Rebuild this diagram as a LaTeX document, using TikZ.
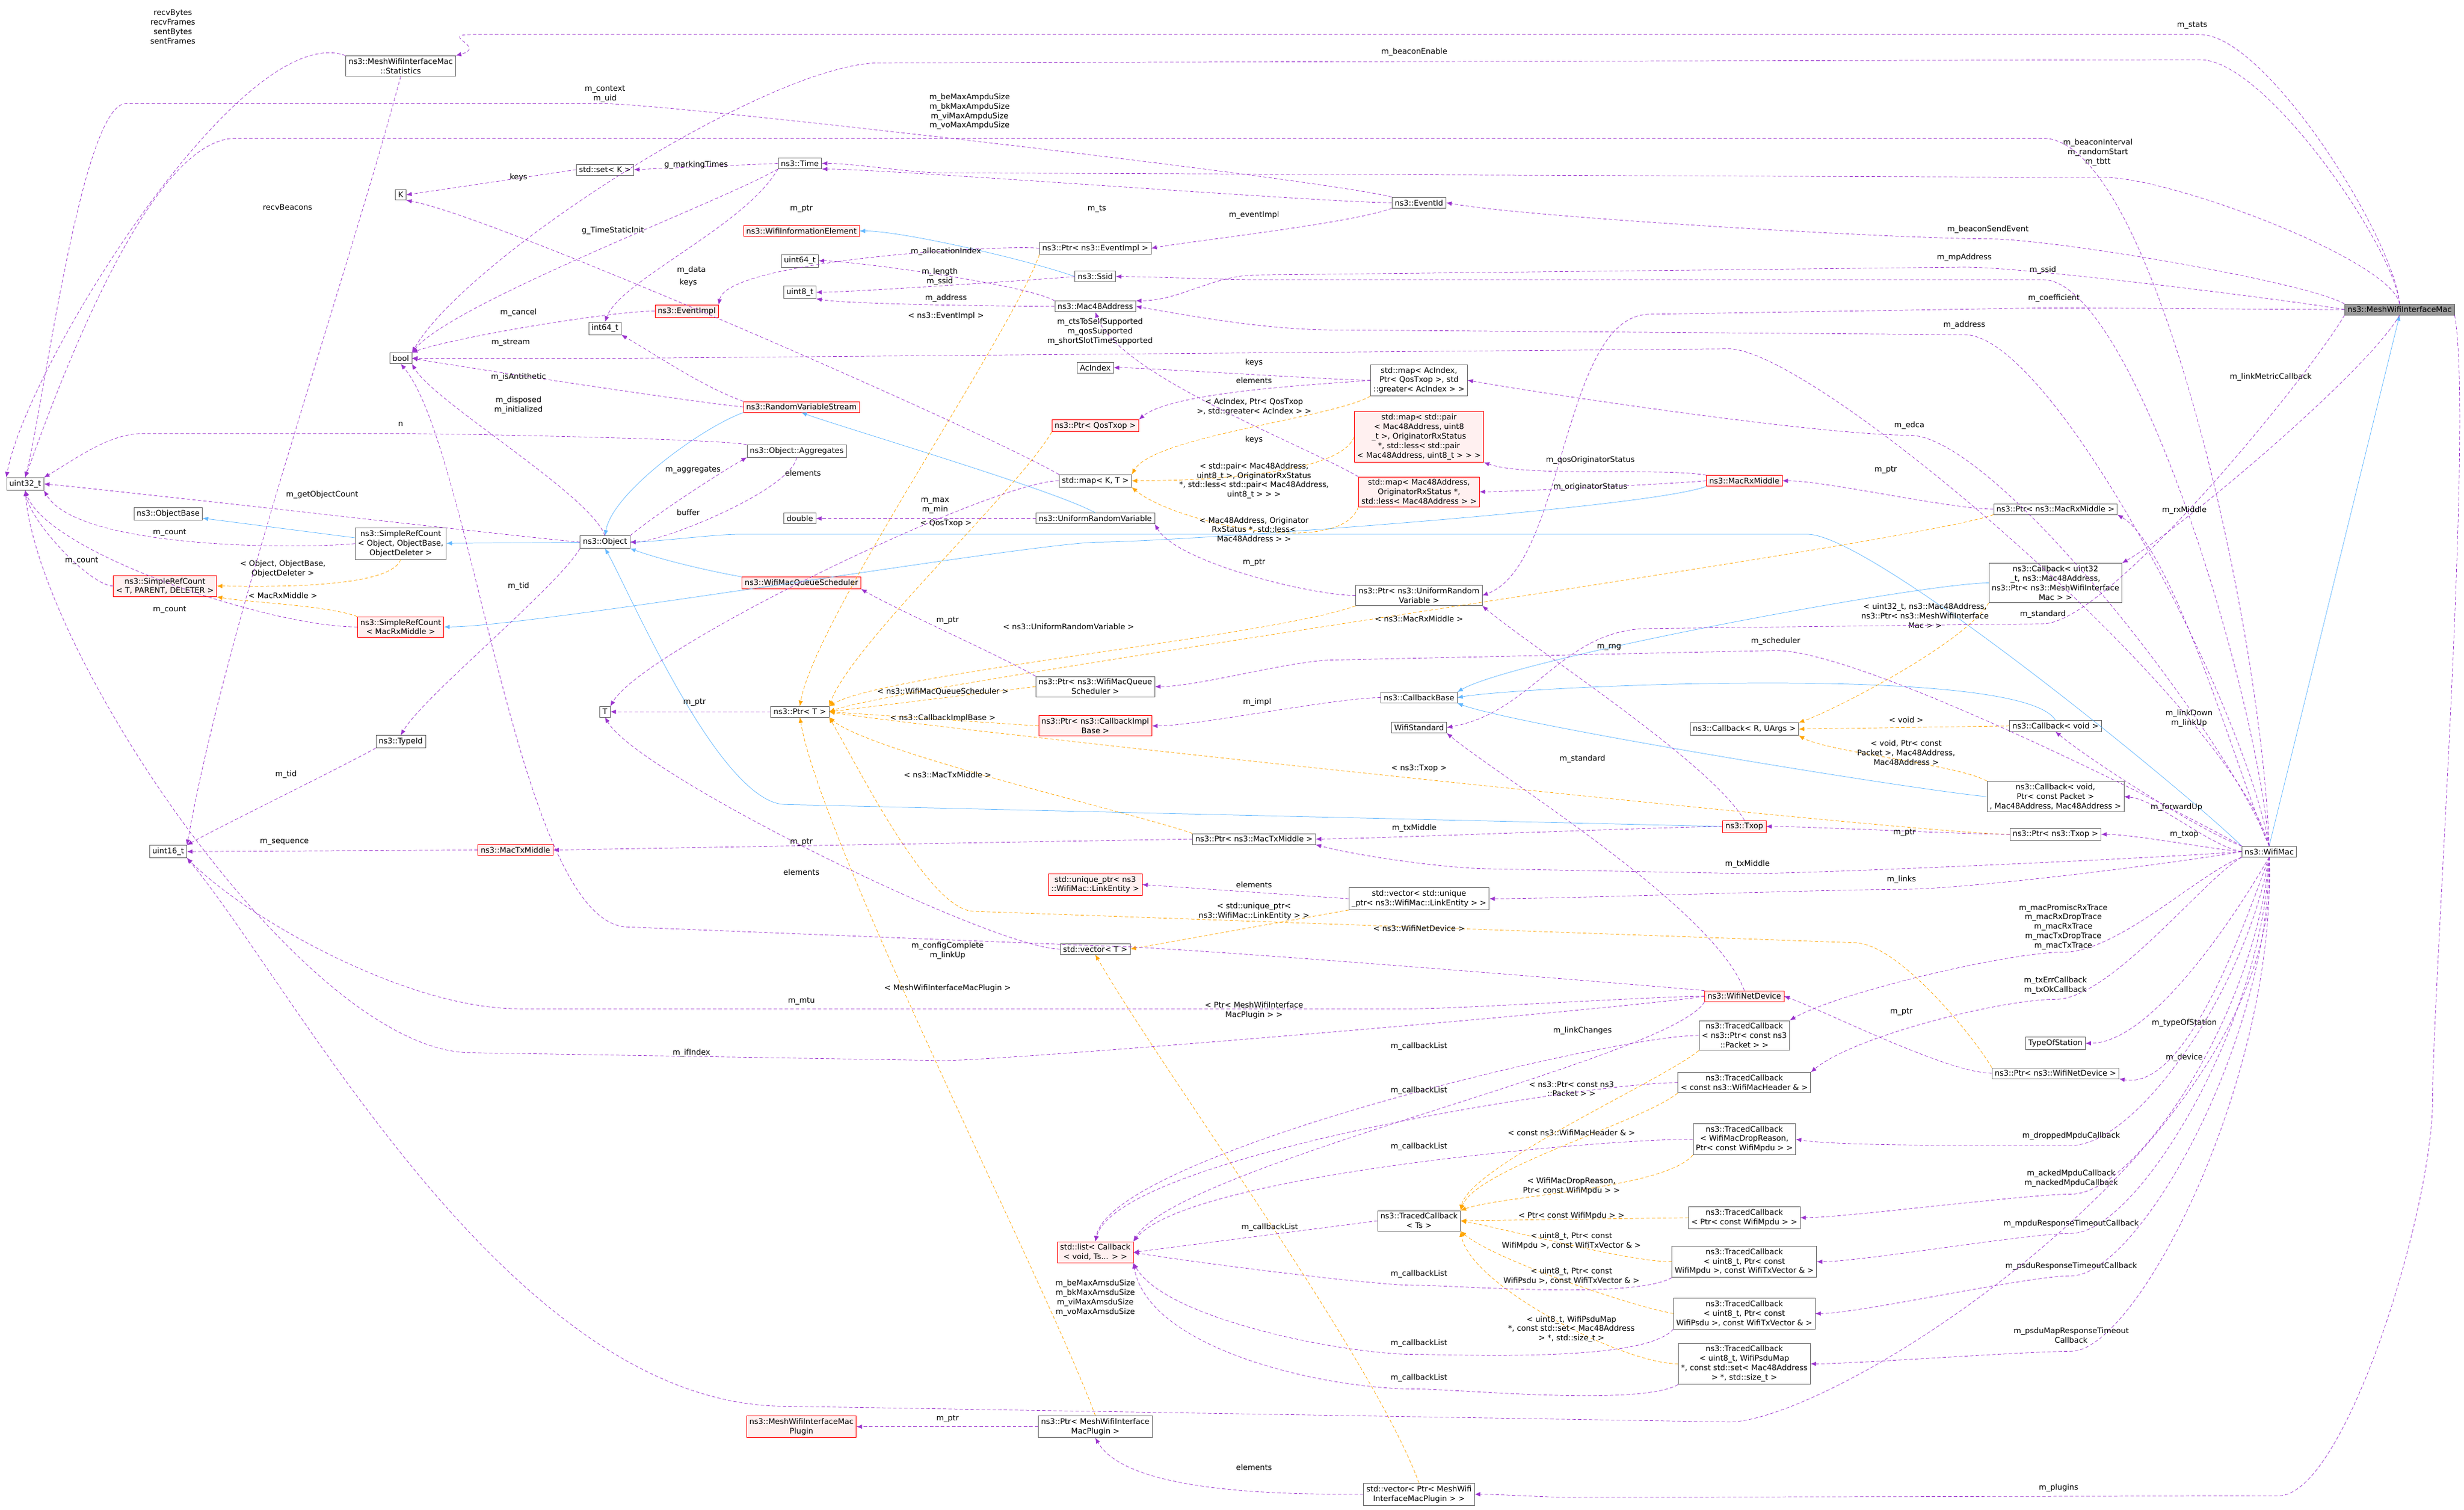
\documentclass[tikz,border=0pt]{standalone}
\usepackage{fontspec}
\setmainfont{DejaVu Sans}
\usetikzlibrary{arrows.meta}
\definecolor{pur}{HTML}{9A32CD}
\definecolor{blu}{HTML}{63B8FF}
\definecolor{ora}{HTML}{FFA500}
\definecolor{pink}{HTML}{FFF0F0}
\tikzset{
 box/.style={draw=black!60, fill=white, font=\fontsize{7}{8.6}\selectfont, align=center, inner xsep=2.5pt, inner ysep=2.2pt},
 rbox/.style={box, draw=red, fill=pink},
 gbox/.style={box, fill=black!40},
 lbl/.style={font=\fontsize{7}{8.6}\selectfont, align=center, inner sep=0.5pt},
 mem/.style={draw=pur, dash pattern=on 3pt off 2pt, -{Latex[length=5pt,width=4pt]}},
 inh/.style={draw=blu, -{Latex[length=5pt,width=4pt]}},
 tpl/.style={draw=ora, dash pattern=on 3pt off 2pt, -{Latex[length=5pt,width=4pt]}},
}
\begin{document}
\begin{tikzpicture}[x=0.05cm,y=-0.05cm]
\useasboundingbox[fill=white] (0,0) rectangle (1568,961);
% ---------------- nodes
\node[gbox] (mwim) at (1527,197) {ns3::MeshWifiInterfaceMac};
\node[box] (stats) at (255,42) {ns3::MeshWifiInterfaceMac\\::Statistics};
\node[box] (u32) at (16,308) {uint32\_t};
\node[box] (K) at (255,124) {K};
\node[box] (setK) at (385,108) {std::set< K >};
\node[box] (time) at (509,104) {ns3::Time};
\node[rbox] (wie) at (510,147) {ns3::WifiInformationElement};
\node[box] (u64) at (509,166) {uint64\_t};
\node[box] (u8) at (509,186) {uint8\_t};
\node[rbox] (eimpl) at (437,198) {ns3::EventImpl};
\node[box] (i64) at (385,209) {int64\_t};
\node[box] (bool) at (255,228) {bool};
\node[rbox] (rvs) at (510,259) {ns3::RandomVariableStream};
\node[box] (aggr) at (507,287) {ns3::Object::Aggregates};
\node[box] (obase) at (107,327) {ns3::ObjectBase};
\node[box] (srcobj) at (255,346) {ns3::SimpleRefCount\\< Object, ObjectBase,\\ObjectDeleter >};
\node[box] (obj) at (385,345) {ns3::Object};
\node[rbox] (srcT) at (105,373) {ns3::SimpleRefCount\\< T, PARENT, DELETER >};
\node[rbox] (srcRx) at (255,399) {ns3::SimpleRefCount\\< MacRxMiddle >};
\node[rbox] (wmqs) at (510,371) {ns3::WifiMacQueueScheduler};
\node[box] (dbl) at (509,330) {double};
\node[box] (typeid) at (255,472) {ns3::TypeId};
\node[box] (T) at (385,453) {T};
\node[box] (u16) at (107,542) {uint16\_t};
\node[rbox] (mtx) at (328,541) {ns3::MacTxMiddle};
\node[box] (eid) at (903,129) {ns3::EventId};
\node[box] (peimpl) at (697,158) {ns3::Ptr< ns3::EventImpl >};
\node[box] (ssid) at (697,176) {ns3::Ssid};
\node[box] (mac48) at (697,195) {ns3::Mac48Address};
\node[box] (acidx) at (697,234) {AcIndex};
\node[box] (mapac) at (903,242) {std::map< AcIndex,\\Ptr< QosTxop >, std\\::greater< AcIndex > >};
\node[rbox] (pqos) at (697,271) {ns3::Ptr< QosTxop >};
\node[rbox] (mappair) at (903,278) {std::map< std::pair\\< Mac48Address, uint8\\\_t >, OriginatorRxStatus\\*, std::less< std::pair\\< Mac48Address, uint8\_t > > >};
\node[box] (mapKT) at (697,306) {std::map< K, T >};
\node[rbox] (mapmac) at (903,313) {std::map< Mac48Address,\\OriginatorRxStatus *,\\std::less< Mac48Address > >};
\node[rbox] (mrx) at (1110,306) {ns3::MacRxMiddle};
\node[box] (urv) at (697,330) {ns3::UniformRandomVariable};
\node[box] (purv) at (903,379) {ns3::Ptr< ns3::UniformRandom\\Variable >};
\node[box] (pmrx) at (1308,324) {ns3::Ptr< ns3::MacRxMiddle >};
\node[box] (cbu32) at (1308,371) {ns3::Callback< uint32\\\_t, ns3::Mac48Address,\\ns3::Ptr< ns3::MeshWifiInterface\\Mac > >};
\node[box] (cbbase) at (903,444) {ns3::CallbackBase};
\node[box] (wstd) at (903,463) {WifiStandard};
\node[box] (pwmqs) at (697,437) {ns3::Ptr< ns3::WifiMacQueue\\Scheduler >};
\node[rbox] (pcib) at (697,462) {ns3::Ptr< ns3::CallbackImpl\\Base >};
\node[box] (pT) at (509,453) {ns3::Ptr< T >};
\node[box] (cbR) at (1110,464) {ns3::Callback< R, UArgs >};
\node[box] (cbvoid) at (1308,462) {ns3::Callback< void >};
\node[box] (cbpkt) at (1308,507) {ns3::Callback< void,\\Ptr< const Packet >\\, Mac48Address, Mac48Address >};
\node[rbox] (txop) at (1110,526) {ns3::Txop};
\node[box] (ptxop) at (1308,531) {ns3::Ptr< ns3::Txop >};
\node[box] (wmac) at (1444,542) {ns3::WifiMac};
\node[box] (pmtx) at (798,534) {ns3::Ptr< ns3::MacTxMiddle >};
\node[rbox] (uptr) at (697,563) {std::unique\_ptr< ns3\\::WifiMac::LinkEntity >};
\node[box] (vecu) at (903,572) {std::vector< std::unique\\\_ptr< ns3::WifiMac::LinkEntity > >};
\node[box] (vecT) at (697,604) {std::vector< T >};
\node[rbox] (wnd) at (1110,634) {ns3::WifiNetDevice};
\node[box] (tcpkt) at (1110,659) {ns3::TracedCallback\\< ns3::Ptr< const ns3\\::Packet > >};
\node[box] (tchdr) at (1110,689) {ns3::TracedCallback\\< const ns3::WifiMacHeader \& >};
\node[box] (tsta) at (1308,664) {TypeOfStation};
\node[box] (pwnd) at (1308,683) {ns3::Ptr< ns3::WifiNetDevice >};
\node[box] (tcdrop) at (1110,725) {ns3::TracedCallback\\< WifiMacDropReason,\\Ptr< const WifiMpdu > >};
\node[box] (tcTs) at (903,777) {ns3::TracedCallback\\< Ts >};
\node[rbox] (list) at (697,797) {std::list< Callback\\< void, Ts... > >};
\node[box] (tcmpdu) at (1110,775) {ns3::TracedCallback\\< Ptr< const WifiMpdu > >};
\node[box] (tcu8mpdu) at (1110,803) {ns3::TracedCallback\\< uint8\_t, Ptr< const\\WifiMpdu >, const WifiTxVector \& >};
\node[box] (tcu8psdu) at (1110,836) {ns3::TracedCallback\\< uint8\_t, Ptr< const\\WifiPsdu >, const WifiTxVector \& >};
\node[box] (tcmap) at (1110,868) {ns3::TracedCallback\\< uint8\_t, WifiPsduMap\\*, const std::set< Mac48Address\\> *, std::size\_t >};
\node[rbox] (mplug) at (510,908) {ns3::MeshWifiInterfaceMac\\Plugin};
\node[box] (pmplug) at (697,908) {ns3::Ptr< MeshWifiInterface\\MacPlugin >};
\node[box] (vecplug) at (903,951) {std::vector< Ptr< MeshWifi\\InterfaceMacPlugin > >};
% ---------------- inheritance
\draw[inh] (srcobj) -- (obase);
\draw[inh] (obj) -- (srcobj);
\draw[inh] (rvs.south west) .. controls +(200:40pt) and +(80:40pt) .. (obj.north);
\draw[inh] (urv.north) .. controls +(150:40pt) and +(-20:40pt) .. (rvs.south);
\draw[inh] (wmqs.north west) .. controls +(170:30pt) and +(-20:30pt) .. (obj.south east);
\draw[inh] (ssid.west) .. controls +(160:40pt) and +(0:40pt) .. (wie.east);
\draw[inh] (mrx.south west) .. controls +(200:60pt) and +(0:60pt) .. (700,345) .. controls +(180:60pt) and +(0:80pt) .. (srcRx.east);
\draw[inh] (txop.west) -- (500,512) .. controls +(180:60pt) and +(-60:40pt) .. (obj.south);
\draw[inh] (wmac.north west) .. controls +(135:60pt) and +(0:60pt) .. (1150,340) -- (470,340) .. controls +(180:20pt) and +(0:20pt) .. (obj.east);
\draw[inh] (wmac.north) -- (mwim.south);
\draw[inh] (cbu32.west) .. controls +(180:60pt) and +(30:60pt) .. (cbbase.north east);
\draw[inh] (cbvoid.north) .. controls +(120:60pt) and +(10:60pt) .. (cbbase.east);
\draw[inh] (cbpkt.west) .. controls +(175:60pt) and +(-20:60pt) .. (cbbase.south east);
% ---------------- templates
\draw[tpl] (srcobj.south) .. controls +(-110:30pt) and +(0:30pt) .. (srcT.east);
\draw[tpl] (srcRx.north west) .. controls +(160:30pt) and +(-10:30pt) .. (srcT.south east);
\draw[tpl] (peimpl.south west) .. controls +(-110:80pt) and +(80:80pt) .. (pT.north);
\draw[tpl] (pqos.south west) .. controls +(-120:60pt) and +(70:60pt) .. (pT.north east);
\draw[tpl] (purv.south west) .. controls +(-160:80pt) and +(30:60pt) .. (pT.north east);
\draw[tpl] (pmrx.south west) .. controls +(-160:80pt) and +(20:80pt) .. (pT.east);
\draw[tpl] (pwmqs.west) -- (pT.east);
\draw[tpl] (pcib.west) -- (pT.east);
\draw[tpl] (ptxop.west) .. controls +(180:80pt) and +(-10:80pt) .. (pT.east);
\draw[tpl] (pmtx.north west) .. controls +(160:50pt) and +(-40:50pt) .. (pT.south east);
\draw[tpl] (pwnd.north west) .. controls +(120:30pt) and +(0:40pt) .. (1180,600) -- (620,580) .. controls +(180:40pt) and +(-60:60pt) .. (pT.south east);
\draw[tpl] (pmplug.north) .. controls +(110:120pt) and +(-80:120pt) .. (pT.south);
\draw[tpl] (mapac.south west) .. controls +(-150:40pt) and +(60:40pt) .. (mapKT.north east);
\draw[tpl] (mappair.west) .. controls +(-110:40pt) and +(0:40pt) .. (mapKT.east);
\draw[tpl] (mapmac.south west) .. controls +(-110:50pt) and +(-40:50pt) .. (mapKT.south east);
\draw[tpl] (cbu32.south west) .. controls +(-120:40pt) and +(20:40pt) .. (cbR.north east);
\draw[tpl] (cbvoid.west) -- (cbR.east);
\draw[tpl] (cbpkt.north west) .. controls +(150:30pt) and +(-30:30pt) .. (cbR.south east);
\draw[tpl] (vecu.south west) .. controls +(-170:40pt) and +(10:40pt) .. (vecT.east);
\draw[tpl] (vecplug.north) .. controls +(110:120pt) and +(-60:120pt) .. (vecT.south);
\draw[tpl] (tcpkt.south west) .. controls +(-140:40pt) and +(80:40pt) .. (tcTs.north east);
\draw[tpl] (tchdr.south west) .. controls +(-140:40pt) and +(70:40pt) .. (tcTs.north east);
\draw[tpl] (tcdrop.south west) .. controls +(-130:40pt) and +(20:40pt) .. (tcTs.north east);
\draw[tpl] (tcmpdu.west) -- (tcTs.east);
\draw[tpl] (tcu8mpdu.west) .. controls +(180:40pt) and +(-10:40pt) .. (tcTs.east);
\draw[tpl] (tcu8psdu.west) .. controls +(170:40pt) and +(-40:40pt) .. (tcTs.south east);
\draw[tpl] (tcmap.west) .. controls +(180:50pt) and +(-80:50pt) .. (tcTs.south east);
% ---------------- template labels
\node[lbl] (t1) at (180,362) {< Object, ObjectBase,\\ObjectDeleter >};
\node[lbl] (t2) at (180,379) {< MacRxMiddle >};
\node[lbl] (t3) at (602,201) {< ns3::EventImpl >};
\node[lbl] (t4) at (602,333) {< QosTxop >};
\node[lbl] (t5) at (798,259) {< AcIndex, Ptr< QosTxop\\>, std::greater< AcIndex > >};
\node[lbl] (t6) at (798,306) {< std::pair< Mac48Address,\\uint8\_t >, OriginatorRxStatus\\*, std::less< std::pair< Mac48Address,\\uint8\_t > > >};
\node[lbl] (t7) at (798,337) {< Mac48Address, Originator\\RxStatus *, std::less<\\Mac48Address > >};
\node[lbl] (t8) at (903,394) {< ns3::MacRxMiddle >};
\node[lbl] (t9) at (680,399) {< ns3::UniformRandomVariable >};
\node[lbl] (t10) at (600,440) {< ns3::WifiMacQueueScheduler >};
\node[lbl] (t11) at (600,457) {< ns3::CallbackImplBase >};
\node[lbl] (t12) at (1225,392) {< uint32\_t, ns3::Mac48Address,\\ns3::Ptr< ns3::MeshWifiInterface\\Mac > >};
\node[lbl] (t13) at (1213,458) {< void >};
\node[lbl] (t14) at (1213,479) {< void, Ptr< const\\Packet >, Mac48Address,\\Mac48Address >};
\node[lbl] (t15) at (903,489) {< ns3::Txop >};
\node[lbl] (t16) at (603,493) {< ns3::MacTxMiddle >};
\node[lbl] (t17) at (798,580) {< std::unique\_ptr<\\ns3::WifiMac::LinkEntity > >};
\node[lbl] (t18) at (903,591) {< ns3::WifiNetDevice >};
\node[lbl] (t19) at (603,629) {< MeshWifiInterfaceMacPlugin >};
\node[lbl] (t20) at (798,643) {< Ptr< MeshWifiInterface\\MacPlugin > >};
\node[lbl] (t21) at (1000,693) {< ns3::Ptr< const ns3\\::Packet > >};
\node[lbl] (t22) at (1000,721) {< const ns3::WifiMacHeader \& >};
\node[lbl] (t23) at (1000,755) {< WifiMacDropReason,\\Ptr< const WifiMpdu > >};
\node[lbl] (t24) at (1000,774) {< Ptr< const WifiMpdu > >};
\node[lbl] (t25) at (1000,790) {< uint8\_t, Ptr< const\\WifiMpdu >, const WifiTxVector \& >};
\node[lbl] (t26) at (1000,812) {< uint8\_t, Ptr< const\\WifiPsdu >, const WifiTxVector \& >};
\node[lbl] (t27) at (1000,846) {< uint8\_t, WifiPsduMap\\*, const std::set< Mac48Address\\> *, std::size\_t >};
% ---------------- members: MeshWifiInterfaceMac
\draw[mem] (mwim.north) .. controls +(95:60pt) and +(0:60pt) .. (1400,22) -- (300,22) .. controls +(180:30pt) and +(15:30pt) .. (stats.north east);
\node[lbl] (l1) at (1395,16) {m\_stats};
\draw[mem] (mwim.north) .. controls +(95:50pt) and +(0:60pt) .. (1400,38) -- (560,40) .. controls +(180:100pt) and +(60:100pt) .. (bool.north east);
\node[lbl] (l2) at (900,33) {m\_beaconEnable};
\draw[mem] (mwim.north) .. controls +(100:40pt) and +(0:60pt) .. (1340,113) -- (600,110) .. controls +(180:30pt) and +(0:30pt) .. (time.east);
\node[lbl] (l3) at (1335,97) {m\_beaconInterval\\m\_randomStart\\m\_tbtt};
\draw[mem] (mwim.north west) .. controls +(150:40pt) and +(0:60pt) .. (1265,152) .. controls +(180:80pt) and +(-10:80pt) .. (eid.east);
\node[lbl] (l4) at (1265,146) {m\_beaconSendEvent};
\draw[mem] (mwim.west) .. controls +(170:40pt) and +(0:60pt) .. (1250,170) -- (800,175) .. controls +(180:40pt) and +(0:40pt) .. (mac48.north east);
\node[lbl] (l5) at (1250,164) {m\_mpAddress};
\draw[mem] (mwim.west) .. controls +(180:40pt) and +(0:60pt) .. (1300,196) -- (1050,200) .. controls +(180:80pt) and +(20:80pt) .. (purv.east);
\node[lbl] (l6) at (1307,190) {m\_coefficient};
\draw[mem] (mwim.south) .. controls +(-120:60pt) and +(30:60pt) .. (cbu32.north east);
\node[lbl] (l7) at (1445,240) {m\_linkMetricCallback};
\draw[mem] (mwim.south west) .. controls +(-120:60pt) and +(0:60pt) .. (1300,397) -- (1050,400) .. controls +(180:80pt) and +(10:80pt) .. (wstd.east);
\node[lbl] (l8) at (1300,391) {m\_standard};
\draw[mem] (mwim.south east) .. controls +(-80:100pt) and +(90:100pt) .. (1548,700) .. controls +(-90:100pt) and +(0:60pt) .. (1450,952) -- (1000,953) .. controls +(180:20pt) and +(0:20pt) .. (vecplug.east);
\node[lbl] (l9) at (1310,947) {m\_plugins};
% ---------------- members: WifiMac
\draw[mem] (wmac.north) .. controls +(92:200pt) and +(0:100pt) .. (1300,88) -- (150,88) .. controls +(180:80pt) and +(70:80pt) .. (u32.north);
\node[lbl] (l10) at (617,71) {m\_beMaxAmpduSize\\m\_bkMaxAmpduSize\\m\_viMaxAmpduSize\\m\_voMaxAmpduSize};
\draw[mem] (wmac.north) .. controls +(95:150pt) and +(0:80pt) .. (1300,178) -- (800,178) .. controls +(180:30pt) and +(0:30pt) .. (ssid.east);
\node[lbl] (l11) at (1300,172) {m\_ssid};
\draw[mem] (wmac.north) .. controls +(100:130pt) and +(0:80pt) .. (1250,213) -- (850,210) .. controls +(180:60pt) and +(-10:60pt) .. (mac48.east);
\node[lbl] (l12) at (1250,207) {m\_address};
\draw[mem] (wmac.north) .. controls +(105:130pt) and +(0:80pt) .. (1100,222) -- (400,228) .. controls +(180:30pt) and +(0:30pt) .. (bool.east);
\node[lbl] (l13) at (700,211) {m\_ctsToSelfSupported\\m\_qosSupported\\m\_shortSlotTimeSupported};
\draw[mem] (wmac.north) .. controls +(110:100pt) and +(0:80pt) .. (1215,277) .. controls +(180:80pt) and +(-10:80pt) .. (mapac.east);
\node[lbl] (l14) at (1215,271) {m\_edca};
\draw[mem] (wmac.north) .. controls +(115:60pt) and +(-30:60pt) .. (pmrx.south east);
\node[lbl] (l15) at (1390,325) {m\_rxMiddle};
\draw[mem] (wmac.north west) .. controls +(150:60pt) and +(0:80pt) .. (1130,414) -- (850,420) .. controls +(180:40pt) and +(0:40pt) .. (pwmqs.east);
\node[lbl] (l16) at (1130,408) {m\_scheduler};
\draw[mem] (wmac.north west) .. controls +(160:40pt) and +(-40:40pt) .. (cbvoid.south);
\node[lbl] (l17) at (1393,457) {m\_linkDown\\m\_linkUp};
\draw[mem] (wmac.west) .. controls +(170:30pt) and +(-5:30pt) .. (cbpkt.east);
\node[lbl] (l18) at (1385,514) {m\_forwardUp};
\draw[mem] (wmac.west) .. controls +(175:30pt) and +(0:30pt) .. (ptxop.east);
\node[lbl] (l19) at (1390,531) {m\_txop};
\draw[mem] (wmac.west) .. controls +(185:60pt) and +(0:60pt) .. (1112,556) -- (950,553) .. controls +(180:40pt) and +(-15:40pt) .. (pmtx.south east);
\node[lbl] (l20) at (1112,550) {m\_txMiddle};
\draw[mem] (wmac.west) .. controls +(190:60pt) and +(0:60pt) .. (1210,566) .. controls +(180:60pt) and +(0:60pt) .. (vecu.east);
\node[lbl] (l21) at (1210,560) {m\_links};
\draw[mem] (wmac.south west) .. controls +(-160:40pt) and +(0:50pt) .. (1313,606) .. controls +(180:50pt) and +(30:50pt) .. (tcpkt.north east);
\node[lbl] (l22) at (1313,590) {m\_macPromiscRxTrace\\m\_macRxDropTrace\\m\_macRxTrace\\m\_macTxDropTrace\\m\_macTxTrace};
\draw[mem] (wmac.south west) .. controls +(-150:40pt) and +(0:50pt) .. (1308,636) .. controls +(180:50pt) and +(40:50pt) .. (tchdr.north east);
\node[lbl] (l23) at (1308,627) {m\_txErrCallback\\m\_txOkCallback};
\draw[mem] (wmac.south) .. controls +(-120:60pt) and +(0:60pt) .. (tsta.east);
\node[lbl] (l24) at (1390,651) {m\_typeOfStation};
\draw[mem] (wmac.south) .. controls +(-110:80pt) and +(-10:60pt) .. (pwnd.south east);
\node[lbl] (l25) at (1390,673) {m\_device};
\draw[mem] (wmac.south) .. controls +(-100:120pt) and +(0:60pt) .. (1318,729) .. controls +(180:40pt) and +(-10:40pt) .. (tcdrop.east);
\node[lbl] (l26) at (1318,723) {m\_droppedMpduCallback};
\draw[mem] (wmac.south) .. controls +(-95:140pt) and +(0:60pt) .. (1318,760) .. controls +(180:40pt) and +(0:40pt) .. (tcmpdu.east);
\node[lbl] (l27) at (1318,750) {m\_ackedMpduCallback\\m\_nackedMpduCallback};
\draw[mem] (wmac.south) .. controls +(-92:150pt) and +(0:60pt) .. (1318,785) .. controls +(180:40pt) and +(0:40pt) .. (tcu8mpdu.east);
\node[lbl] (l28) at (1318,779) {m\_mpduResponseTimeoutCallback};
\draw[mem] (wmac.south) .. controls +(-90:170pt) and +(0:60pt) .. (1318,812) .. controls +(180:40pt) and +(0:40pt) .. (tcu8psdu.east);
\node[lbl] (l29) at (1318,806) {m\_psduResponseTimeoutCallback};
\draw[mem] (wmac.south) .. controls +(-88:200pt) and +(0:60pt) .. (1318,860) .. controls +(180:40pt) and +(0:40pt) .. (tcmap.east);
\node[lbl] (l30) at (1318,850) {m\_psduMapResponseTimeout\\Callback};
\draw[mem] (wmac.south) .. controls +(-86:250pt) and +(0:100pt) .. (1100,905) -- (500,895) .. controls +(180:250pt) and +(-50:150pt) .. (u16.south east);
\node[lbl] (l31) at (697,826) {m\_beMaxAmsduSize\\m\_bkMaxAmsduSize\\m\_viMaxAmsduSize\\m\_voMaxAmsduSize};
% ---------------- members: others
\draw[mem] (stats.north west) .. controls +(160:100pt) and +(80:100pt) .. (u32.north west);
\node[lbl] (l32) at (110,17) {recvBytes\\recvFrames\\sentBytes\\sentFrames};
\draw[mem] (stats.south) .. controls +(-105:200pt) and +(80:200pt) .. (u16.north east);
\node[lbl] (l33) at (183,132) {recvBeacons};
\draw[mem] (eid.north west) .. controls +(165:60pt) and +(0:60pt) .. (385,66) -- (80,66) .. controls +(180:40pt) and +(75:60pt) .. (u32.north);
\node[lbl] (l34) at (385,60) {m\_context\\m\_uid};
\draw[mem] (setK.west) -- (K.east);
\node[lbl] (l35) at (330,113) {keys};
\draw[mem] (time.west) -- (setK.east);
\node[lbl] (l36) at (443,105) {g\_markingTimes};
\draw[mem] (time.south west) .. controls +(-150:60pt) and +(50:60pt) .. (bool.north east);
\node[lbl] (l37) at (390,147) {g\_TimeStaticInit};
\draw[mem] (time.south west) .. controls +(-120:60pt) and +(70:40pt) .. (i64.north);
\node[lbl] (l38) at (440,172) {m\_data};
\draw[mem] (mapKT.north west) .. controls +(150:80pt) and +(-10:80pt) .. (K.south east);
\node[lbl] (l39) at (438,180) {keys};
\draw[mem] (peimpl.west) .. controls +(175:40pt) and +(80:40pt) .. (eimpl.north east);
\node[lbl] (l40) at (510,133) {m\_ptr};
\draw[mem] (eimpl.west) .. controls +(180:40pt) and +(20:40pt) .. (bool.north east);
\node[lbl] (l41) at (330,199) {m\_cancel};
\draw[mem] (eid.west) .. controls +(180:60pt) and +(0:60pt) .. (time.south east);
\node[lbl] (l42) at (698,133) {m\_ts};
\draw[mem] (eid.south west) .. controls +(-160:40pt) and +(10:40pt) .. (peimpl.east);
\node[lbl] (l43) at (798,137) {m\_eventImpl};
\draw[mem] (mac48.north west) .. controls +(150:30pt) and +(0:30pt) .. (u64.east);
\node[lbl] (l44) at (602,160) {m\_allocationIndex};
\draw[mem] (ssid.west) .. controls +(185:30pt) and +(0:30pt) .. (u8.east);
\node[lbl] (l45) at (598,176) {m\_length\\m\_ssid};
\draw[mem] (mac48.west) .. controls +(180:30pt) and +(-10:30pt) .. (u8.south east);
\node[lbl] (l46) at (602,190) {m\_address};
\draw[mem] (rvs.north west) .. controls +(160:40pt) and +(-30:40pt) .. (i64.south east);
\node[lbl] (l47) at (325,218) {m\_stream};
\draw[mem] (rvs.west) .. controls +(175:40pt) and +(-10:40pt) .. (bool.east);
\node[lbl] (l48) at (330,240) {m\_isAntithetic};
\draw[mem] (obj.north) .. controls +(110:40pt) and +(-60:40pt) .. (bool.south east);
\node[lbl] (l49) at (330,258) {m\_disposed\\m\_initialized};
\draw[mem] (aggr.north west) .. controls +(170:30pt) and +(0:50pt) .. (255,276) -- (90,276) .. controls +(180:30pt) and +(30:30pt) .. (u32.north east);
\node[lbl] (l50) at (255,270) {n};
\draw[mem] (obj.north east) .. controls +(40:30pt) and +(-150:30pt) .. (aggr.south west);
\node[lbl] (l51) at (441,299) {m\_aggregates};
\draw[mem] (aggr.south) .. controls +(-100:30pt) and +(0:30pt) .. (obj.east);
\node[lbl] (l52) at (438,326) {buffer};
\draw[mem] (mapKT.west) .. controls +(180:60pt) and +(60:60pt) .. (T.north east);
\node[lbl] (l53) at (511,301) {elements};
\draw[mem] (obj.west) .. controls +(175:60pt) and +(-5:60pt) .. (u32.east);
\node[lbl] (l54) at (205,315) {m\_getObjectCount};
\draw[mem] (srcobj.west) .. controls +(185:60pt) and +(-60:60pt) .. (u32.south east);
\node[lbl] (l55) at (108,339) {m\_count};
\draw[mem] (srcT.west) .. controls +(180:20pt) and +(-80:30pt) .. (u32.south);
\node[lbl] (l56) at (52,357) {m\_count};
\draw[mem] (srcRx.west) .. controls +(180:80pt) and +(-70:60pt) .. (u32.south);
\node[lbl] (l57) at (108,388) {m\_count};
\draw[mem] (obj.south west) .. controls +(-120:40pt) and +(60:40pt) .. (typeid.north);
\node[lbl] (l58) at (330,373) {m\_tid};
\draw[mem] (typeid.south west) .. controls +(-150:30pt) and +(30:30pt) .. (u16.north east);
\node[lbl] (l59) at (182,493) {m\_tid};
\draw[mem] (mtx.west) -- (u16.east);
\node[lbl] (l60) at (181,536) {m\_sequence};
\draw[mem] (pT.west) -- (T.east);
\node[lbl] (l61) at (442,447) {m\_ptr};
\draw[mem] (urv.west) -- (dbl.east);
\node[lbl] (l62) at (595,322) {m\_max\\m\_min};
\draw[mem] (mapac.west) .. controls +(180:30pt) and +(0:30pt) .. (acidx.east);
\node[lbl] (l63) at (798,231) {keys};
\draw[mem] (mapac.west) .. controls +(185:40pt) and +(40:40pt) .. (pqos.north east);
\node[lbl] (l64) at (798,242) {elements};
\draw[mem] (mapmac.north west) .. controls +(150:60pt) and +(-70:60pt) .. (mac48.south);
\node[lbl] (l65) at (798,280) {keys};
\draw[mem] (mrx.north west) .. controls +(170:40pt) and +(-20:40pt) .. (mappair.south east);
\node[lbl] (l66) at (1012,293) {m\_qosOriginatorStatus};
\draw[mem] (mrx.west) .. controls +(185:30pt) and +(0:30pt) .. (mapmac.east);
\node[lbl] (l67) at (1012,310) {m\_originatorStatus};
\draw[mem] (purv.west) .. controls +(180:40pt) and +(-60:40pt) .. (urv.south east);
\node[lbl] (l68) at (798,358) {m\_ptr};
\draw[mem] (pmrx.west) .. controls +(180:40pt) and +(0:40pt) .. (mrx.east);
\node[lbl] (l69) at (1200,299) {m\_ptr};
\draw[mem] (pwmqs.north west) .. controls +(150:40pt) and +(-30:40pt) .. (wmqs.south east);
\node[lbl] (l70) at (603,395) {m\_ptr};
\draw[mem] (cbbase.west) .. controls +(180:40pt) and +(0:40pt) .. (pcib.east);
\node[lbl] (l71) at (800,447) {m\_impl};
\draw[mem] (ptxop.west) .. controls +(180:40pt) and +(0:40pt) .. (txop.east);
\node[lbl] (l72) at (1212,530) {m\_ptr};
\draw[mem] (txop.west) .. controls +(180:40pt) and +(0:40pt) .. (pmtx.east);
\node[lbl] (l73) at (900,527) {m\_txMiddle};
\draw[mem] (txop.north) .. controls +(120:60pt) and +(-40:60pt) .. (purv.south east);
\node[lbl] (l74) at (1024,412) {m\_rng};
\draw[mem] (pmtx.west) -- (mtx.east);
\node[lbl] (l75) at (510,536) {m\_ptr};
\draw[mem] (vecu.west) -- (uptr.east);
\node[lbl] (l76) at (798,563) {elements};
\draw[mem] (vecT.west) .. controls +(180:60pt) and +(-60:60pt) .. (T.south);
\node[lbl] (l77) at (510,555) {elements};
\draw[mem] (wnd.north) .. controls +(110:80pt) and +(-40:60pt) .. (wstd.south east);
\node[lbl] (l78) at (1007,483) {m\_standard};
\draw[mem] (wnd.north west) .. controls +(175:60pt) and +(0:60pt) .. (700,602) -- (400,590) .. controls +(180:100pt) and +(-50:100pt) .. (bool.south);
\node[lbl] (l79) at (603,605) {m\_configComplete\\m\_linkUp};
\draw[mem] (wnd.west) .. controls +(180:40pt) and +(0:40pt) .. (900,642) -- (330,642) .. controls +(180:100pt) and +(-45:80pt) .. (u16.south east);
\node[lbl] (l80) at (510,637) {m\_mtu};
\draw[mem] (wnd.west) .. controls +(190:60pt) and +(0:60pt) .. (600,675) -- (300,670) .. controls +(180:150pt) and +(-85:150pt) .. (u32.south);
\node[lbl] (l81) at (440,670) {m\_ifIndex};
\draw[mem] (wnd.south west) .. controls +(-120:60pt) and +(60:80pt) .. (list.north east);
\node[lbl] (l82) at (1007,656) {m\_linkChanges};
\draw[mem] (pwnd.west) .. controls +(180:40pt) and +(-20:40pt) .. (wnd.east);
\node[lbl] (l83) at (1210,644) {m\_ptr};
\draw[mem] (tcpkt.west) .. controls +(180:80pt) and +(80:80pt) .. (list.north);
\node[lbl] (l84) at (903,666) {m\_callbackList};
\draw[mem] (tchdr.west) .. controls +(180:80pt) and +(75:80pt) .. (list.north);
\node[lbl] (l85) at (903,694) {m\_callbackList};
\draw[mem] (tcdrop.west) .. controls +(180:80pt) and +(50:80pt) .. (list.north east);
\node[lbl] (l86) at (903,730) {m\_callbackList};
\draw[mem] (tcTs.west) -- (list.east);
\node[lbl] (l87) at (808,781) {m\_callbackList};
\draw[mem] (tcu8mpdu.south west) .. controls +(-150:40pt) and +(0:40pt) .. (900,818) .. controls +(180:40pt) and +(-10:40pt) .. (list.east);
\node[lbl] (l88) at (903,811) {m\_callbackList};
\draw[mem] (tcu8psdu.south west) .. controls +(-130:40pt) and +(0:40pt) .. (900,862) .. controls +(180:60pt) and +(-60:60pt) .. (list.south east);
\node[lbl] (l89) at (903,855) {m\_callbackList};
\draw[mem] (tcmap.south west) .. controls +(-150:40pt) and +(0:40pt) .. (900,884) .. controls +(180:80pt) and +(-80:80pt) .. (list.south east);
\node[lbl] (l90) at (903,877) {m\_callbackList};
\draw[mem] (pmplug.west) -- (mplug.east);
\node[lbl] (l91) at (603,903) {m\_ptr};
\draw[mem] (vecplug.west) .. controls +(180:60pt) and +(-60:60pt) .. (pmplug.south);
\node[lbl] (l92) at (798,934) {elements};
\end{tikzpicture}
\end{document}
